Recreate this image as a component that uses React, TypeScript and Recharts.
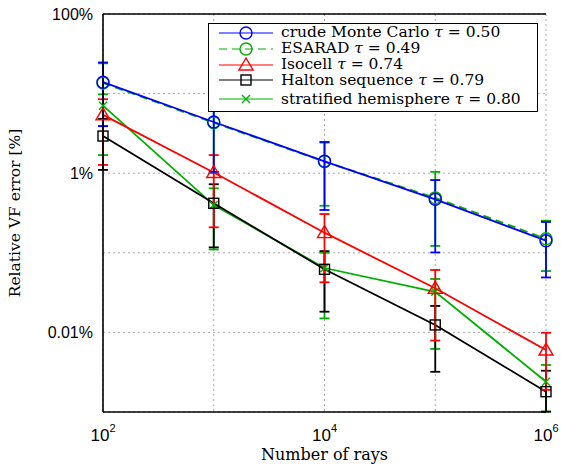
import React from 'react';
import { LineChart, Line, XAxis, YAxis, CartesianGrid, ErrorBar, Legend, ReferenceLine } from 'recharts';

// number of rays (x) and relative view factor error in % (y)
const rays = [1e2, 1e3, 1e4, 1e5, 1e6];
const xTicks = [1e2, 1e3, 1e4, 1e5, 1e6];
const xTickExponents: { [k: number]: string } = { 100: '2', 10000: '4', 1000000: '6' };
const yTicks = [0.001, 0.01, 0.1, 1, 10, 100];
const yTickLabels: { [k: number]: string } = { 100: '100%', 1: '1%', 0.01: '0.01%' };

const mcMean = [13.9, 4.4, 1.41, 0.47, 0.142];
const mcHigh = [24.6, 7.8, 2.47, 0.82, 0.244];
const mcLow = [3.9, 1.04, 0.345, 0.101, 0.049];

const esaradMean = [13.6, 4.3, 1.4, 0.49, 0.15];
const esaradHigh = [24.0, 7.6, 2.42, 1.04, 0.253];
const esaradLow = [3.9, 1.0, 0.39, 0.122, 0.059];

const isocellMean = [5.4, 1.02, 0.179, 0.0358, 0.006];
const isocellHigh = [8.5, 1.69, 0.307, 0.0608, 0.0099];
const isocellLow = [1.27, 0.209, 0.0426, 0.0079, 0.0019];

const haltonMean = [2.93, 0.419, 0.062, 0.0124, 0.0018];
const haltonHigh = [4.8, 0.726, 0.105, 0.0215, 0.0033];
const haltonLow = [1.1, 0.117, 0.0182, 0.0032, 0.00101];

const stratMean = [7.05, 0.398, 0.0644, 0.0324, 0.0024];
const stratHigh = [9.8, 0.646, 0.1, 0.0469, 0.0039];
const stratLow = [1.69, 0.11, 0.015, 0.0062, 0.00101];

type Shape = 'circle' | 'triangle' | 'square' | 'cross';

// legend order
const series = [
  { key: 'mc', name: 'crude Monte Carlo', tau: '0.50', color: '#0000ff', dash: undefined, shape: 'circle' as Shape, mean: mcMean, high: mcHigh, low: mcLow },
  { key: 'esarad', name: 'ESARAD', tau: '0.49', color: '#00b000', dash: '8 5', shape: 'circle' as Shape, mean: esaradMean, high: esaradHigh, low: esaradLow },
  { key: 'isocell', name: 'Isocell', tau: '0.74', color: '#ff0000', dash: undefined, shape: 'triangle' as Shape, mean: isocellMean, high: isocellHigh, low: isocellLow },
  { key: 'halton', name: 'Halton sequence', tau: '0.79', color: '#000000', dash: undefined, shape: 'square' as Shape, mean: haltonMean, high: haltonHigh, low: haltonLow },
  { key: 'strat', name: 'stratified hemisphere', tau: '0.80', color: '#00b000', dash: undefined, shape: 'cross' as Shape, mean: stratMean, high: stratHigh, low: stratLow },
];
// drawing order (last on top)
const drawOrder = ['strat', 'esarad', 'halton', 'isocell', 'mc'];

const tableData = rays.map((n, i) => {
  const row: { [k: string]: number | number[] } = { rays: n };
  series.forEach((s) => {
    row[s.key] = s.mean[i];
    row[s.key + 'Err'] = [s.mean[i] - s.low[i], s.high[i] - s.mean[i]];
  });
  return row;
});

const Marker = ({ cx, cy, shape, color }: { cx: number; cy: number; shape: Shape; color: string }) => {
  const sw = 1.4;
  if (shape === 'circle') return <circle cx={cx} cy={cy} r={6} fill="none" stroke={color} strokeWidth={sw} />;
  if (shape === 'triangle')
    return <polygon points={`${cx},${cy - 7} ${cx - 7},${cy + 5} ${cx + 7},${cy + 5}`} fill="none" stroke={color} strokeWidth={sw} />;
  if (shape === 'square') return <rect x={cx - 5} y={cy - 5} width={10} height={10} fill="none" stroke={color} strokeWidth={sw} />;
  return (
    <path d={`M${cx - 4},${cy - 4}L${cx + 4},${cy + 4}M${cx - 4},${cy + 4}L${cx + 4},${cy - 4}`} stroke={color} strokeWidth={sw} />
  );
};

const XTick = (props: any) => {
  const { x, y, payload } = props;
  const exp = xTickExponents[payload.value];
  if (!exp) return null;
  return (
    <text x={x} y={y} dy={21} textAnchor="middle" fontFamily="Liberation Sans" fontSize={17} fill="#000">
      <tspan>10</tspan>
      <tspan dy={-9} fontSize={11}>{exp}</tspan>
    </text>
  );
};

const YTick = (props: any) => {
  const { x, y, payload } = props;
  const label = yTickLabels[payload.value];
  if (!label) return null;
  return (
    <text x={x} y={y} dx={-2} dy={6} textAnchor="end" fontFamily="Liberation Sans" fontSize={16} fill="#000">
      {label}
    </text>
  );
};

const renderLegend = () => (
  <div
    style={{
      border: '1.5px solid #000',
      background: '#fff',
      width: 330,
      height: 89,
      boxSizing: 'border-box',
      paddingTop: 1,
      fontFamily: 'DejaVu Serif',
      fontSize: 15.5,
      color: '#000',
    }}
  >
    {series.map((s, i) => (
      <div key={s.key} style={{ display: 'flex', alignItems: 'center', height: 15.8, marginTop: i === 4 ? 3 : 0 }}>
        <svg width={72} height={16} style={{ flex: 'none' }}>
          <line x1={10} x2={64} y1={8} y2={8} stroke={s.color} strokeWidth={1.2} strokeDasharray={s.dash} />
          <Marker cx={37} cy={8} shape={s.shape} color={s.color} />
        </svg>
        <span style={{ whiteSpace: 'nowrap', lineHeight: '15px' }}>
          {s.name} <i>τ</i> = {s.tau}
        </span>
      </div>
    ))}
  </div>
);

export default function App() {
  const ordered = drawOrder.map((k) => series.find((s) => s.key === k)!);
  return (
    <div style={{ position: 'absolute', left: 0, top: 0 }}>
      <LineChart width={561} height={467} data={tableData} margin={{ top: 14, right: 15, bottom: 0, left: 0 }}>
        <CartesianGrid stroke="#a8a8a8" strokeDasharray="2 3" />
        <XAxis
          dataKey="rays"
          type="number"
          scale="log"
          domain={[100, 1e6]}
          ticks={xTicks}
          interval={0}
          height={55}
          tick={<XTick />}
          tickLine={false}
          axisLine={{ stroke: '#000', strokeWidth: 1.6 }}
          label={{
            content: () => (
              <text x={324.5} y={460} textAnchor="middle" fontFamily="DejaVu Serif" fontSize={16} fill="#000">
                Number of rays
              </text>
            ),
          }}
        />
        <YAxis
          type="number"
          scale="log"
          domain={[0.001, 100]}
          ticks={yTicks}
          interval={0}
          width={103}
          tick={<YTick />}
          tickLine={false}
          axisLine={{ stroke: '#000', strokeWidth: 1.6 }}
          label={{
            content: () => (
              <text
                x={20}
                y={213}
                transform="rotate(-90 20 213)"
                textAnchor="middle"
                fontFamily="DejaVu Serif"
                fontSize={15.5}
                fill="#000"
              >
                Relative VF error [%]
              </text>
            ),
          }}
        />
        <ReferenceLine y={100} stroke="#000" strokeWidth={1.4} />
        {ordered.map((s) => (
          <Line
            key={s.key}
            dataKey={s.key}
            name={s.name}
            stroke={s.color}
            strokeWidth={1.8}
            strokeDasharray={s.dash}
            isAnimationActive={false}
            dot={(p: any) => <Marker key={`${s.key}-${p.index}`} cx={p.cx} cy={p.cy} shape={s.shape} color={s.color} />}
            activeDot={false}
          >
            <ErrorBar dataKey={s.key + 'Err'} direction="y" width={5} stroke={s.color} strokeWidth={1.8} />
          </Line>
        ))}
        <Legend
          layout="vertical"
          align="center"
          verticalAlign="middle"
          content={renderLegend}
          wrapperStyle={{ left: 208, top: 23, width: 330 }}
        />
      </LineChart>
    </div>
  );
}
